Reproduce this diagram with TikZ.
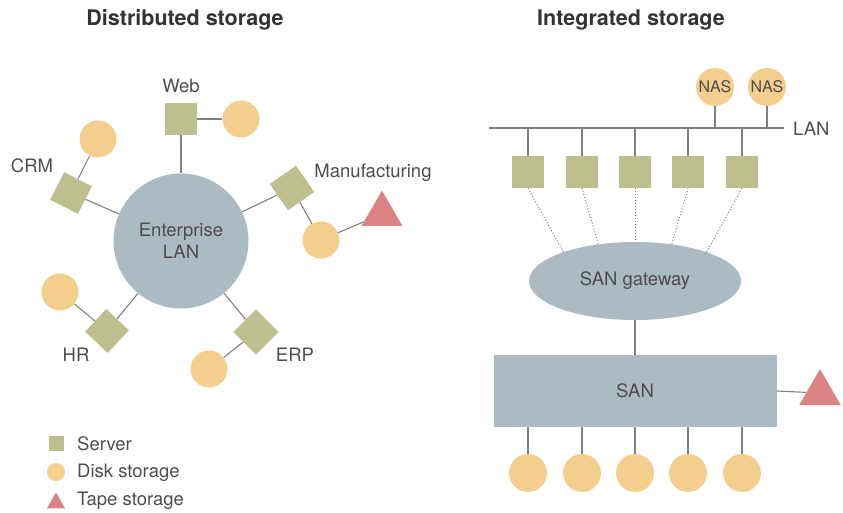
\documentclass[tikz,border=0pt]{standalone}
\usepackage{fontspec}
\setmainfont{TeX Gyre Heros}
\usepackage{xcolor}
\usetikzlibrary{shapes.geometric}
\definecolor{srvgreen}{HTML}{BDBF8F}
\definecolor{diskorange}{HTML}{F3CE8C}
\definecolor{tapered}{HTML}{DB8285}
\definecolor{netblue}{HTML}{ACBAC1}
\definecolor{wiregray}{HTML}{808080}
\definecolor{textgray}{HTML}{4D4D4D}
\tikzstyle{server} = [rectangle, fill=srvgreen, minimum size=32pt, inner sep=0pt]
\tikzstyle{disk} = [circle, fill=diskorange, minimum size=37pt, inner sep=0pt,
text=textgray, font=\fontsize{16}{19}\selectfont]
\tikzstyle{tape} = [regular polygon, regular polygon sides=3, fill=tapered,
minimum size=48pt, inner sep=0pt]
\tikzstyle{network} = [fill=netblue, inner sep=0pt, text=textgray,
font=\fontsize{18.5}{21.5}\selectfont]
\tikzstyle{tag} = [text=textgray, inner sep=1pt, font=\fontsize{18.5}{21.5}\selectfont]
\tikzstyle{title} = [text=black!80, font=\fontsize{21.5}{25}\selectfont\bfseries]
\tikzstyle{wire} = [draw=wiregray, line width=1.1pt]
\tikzstyle{dots} = [draw=wiregray, line width=1pt, dash pattern=on 1pt off 2pt]

\begin{document}
\begin{tikzpicture}[x=1pt, y=-1pt]
        \useasboundingbox (0,0) rectangle (843,512);
        \node (ttl1) [title] at (185,20) {Distributed storage};
        \node (ttl2) [title] at (631,20) {Integrated storage};
        \node (elan) [network, circle, minimum size=135pt, align=center] at (181,241) {Enterprise\\LAN};
        \node (web) [server] at (181,119) {};
        \node (webd) [disk] at (241,119) {};
        \node (crm) [server, minimum size=31pt, rotate=-27] at (71,193) {};
        \node (crmd) [disk] at (98,139) {};
        \node (mfg) [server, rotate=35] at (292,188) {};
        \node (mfgd) [disk] at (321,240) {};
        \node (mfgt) [tape, minimum size=47pt] at (382,214) {};
        \node (hr) [server, minimum size=31pt, rotate=47] at (107,331) {};
        \node (hrd) [disk] at (60,292) {};
        \node (erp) [server, rotate=45] at (256,332) {};
        \node (erpd) [disk] at (209,369) {};
        \node (webl) [tag] at (181,86) {Web};
        \node (crml) [tag] at (32,166) {CRM};
        \node (mfgl) [tag] at (373,173) {Manufacturing};
        \node (hrl) [tag] at (76,355) {HR};
        \node (erpl) [tag] at (295,355) {ERP};
        \draw [wire] (web) -- (elan);
        \draw [wire] (web) -- (webd);
        \draw [wire] (crm) -- (elan);
        \draw [wire] (crm) -- (crmd);
        \draw [wire] (mfg) -- (elan);
        \draw [wire] (mfg) -- (mfgd);
        \draw [wire] (mfgd) -- (mfgt);
        \draw [wire] (hr) -- (elan);
        \draw [wire] (hr) -- (hrd);
        \draw [wire] (erp) -- (elan);
        \draw [wire] (erp) -- (erpd);
        \node (keys) [server, minimum size=15pt] at (56,443) {};
        \node (keyd) [disk, minimum size=18pt] at (56,472) {};
        \node (keyt) [tape, minimum size=21pt] at (56,503) {};
        \node (keysl) [tag, anchor=west] at (76,444) {Server};
        \node (keydl) [tag, anchor=west] at (76,473) {Disk storage};
        \node (keytl) [tag, anchor=west] at (76,501) {Tape storage};
        \coordinate (lanl) at (489,128);
        \coordinate (lanr) at (784,128);
        \draw [wire] (lanl) -- (lanr);
        \node (lanlbl) [tag, anchor=west] at (792,129) {LAN};
        \node (nas1) [disk, minimum size=38pt] at (715,87) {NAS};
        \node (nas2) [disk, minimum size=38pt] at (767,87) {NAS};
        \draw [wire] (nas1) -- (nas1 |- lanl);
        \draw [wire] (nas2) -- (nas2 |- lanl);
        \node (gw) [network, ellipse, minimum width=212pt, minimum height=78pt] at (635,281) {SAN gateway};
        \node (san) [network, rectangle, minimum width=283pt, minimum height=72pt] at (635,391) {SAN};
        \node (sant) [tape, minimum size=48pt] at (820,393) {};
        \draw [wire] (gw) -- (san);
        \draw [wire] (san.east) -- (sant);
        \foreach \i/\x/\a in {1/528/158, 2/582/135, 3/635/90, 4/688/45, 5/742/22} {
            \node (srv\i) [server] at (\x,172) {};
            \draw [wire] (srv\i) -- (srv\i |- lanl);
            \draw [dots] (srv\i.south) -- (gw.\a);
            \node (dsk\i) [disk, minimum size=38pt] at (\x,473) {};
            \draw [wire] (dsk\i) -- (dsk\i |- san.south);
        }
    \end{tikzpicture}
\end{document}
